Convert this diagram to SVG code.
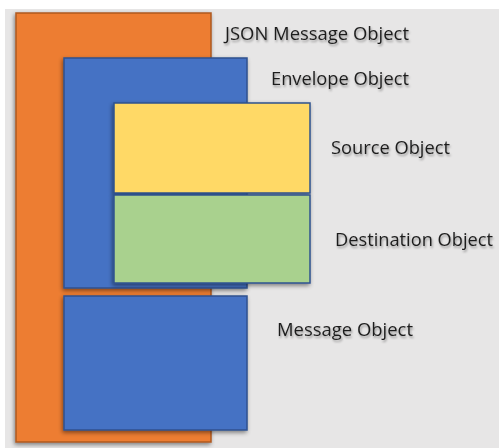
<svg xmlns="http://www.w3.org/2000/svg" width="499" height="448" viewBox="0 0 499 448">
  <defs>
    <filter id="shadow" x="-10%" y="-10%" width="120%" height="120%">
      <feDropShadow dx="-1" dy="2" stdDeviation="2" flood-color="#000" flood-opacity="0.45"/>
    </filter>
    <filter id="tshadow" x="-10%" y="-30%" width="120%" height="160%">
      <feDropShadow dx="1" dy="2" stdDeviation="1.2" flood-color="#000" flood-opacity="0.35"/>
    </filter>
  </defs>
  <style>
    .orange { fill: #ED7D31; stroke: #AE5A21; stroke-width: 1.5; }
    .blue { fill: #4472C4; stroke: #2F528F; stroke-width: 1.5; }
    .yellow { fill: #FFD966; stroke: #2F528F; stroke-width: 1.5; }
    .green { fill: #A9D18E; stroke: #2F528F; stroke-width: 1.5; }
    .lbl { font-family: "Open Sans", "Liberation Sans", sans-serif; font-size: 18.5px; fill: #1F1F1F; }
  </style>
  <rect x="5" y="9" width="494" height="439" fill="#E7E6E6"/>
  <g id="json-message-object" filter="url(#shadow)">
    <rect class="orange" x="16" y="13" width="195" height="429"/>
  </g>
  <g id="envelope-object" filter="url(#shadow)">
    <rect class="blue" x="64" y="58" width="183" height="230"/>
  </g>
  <g id="source-object" filter="url(#shadow)">
    <rect class="yellow" x="114" y="103" width="196" height="90"/>
  </g>
  <g id="destination-object" filter="url(#shadow)">
    <rect class="green" x="114" y="195" width="196" height="88"/>
  </g>
  <g id="message-object" filter="url(#shadow)">
    <rect class="blue" x="64" y="296" width="183" height="134"/>
  </g>
  <g id="labels" filter="url(#tshadow)">
    <text class="lbl" x="225" y="40" textLength="184" lengthAdjust="spacingAndGlyphs">JSON Message Object</text>
    <text class="lbl" x="271" y="85" textLength="138" lengthAdjust="spacingAndGlyphs">Envelope Object</text>
    <text class="lbl" x="331" y="154" textLength="119" lengthAdjust="spacingAndGlyphs">Source Object</text>
    <text class="lbl" x="335" y="246" textLength="158" lengthAdjust="spacingAndGlyphs">Destination Object</text>
    <text class="lbl" x="277" y="336" textLength="136" lengthAdjust="spacingAndGlyphs">Message Object</text>
  </g>
  <g id="connectors"/>
</svg>
